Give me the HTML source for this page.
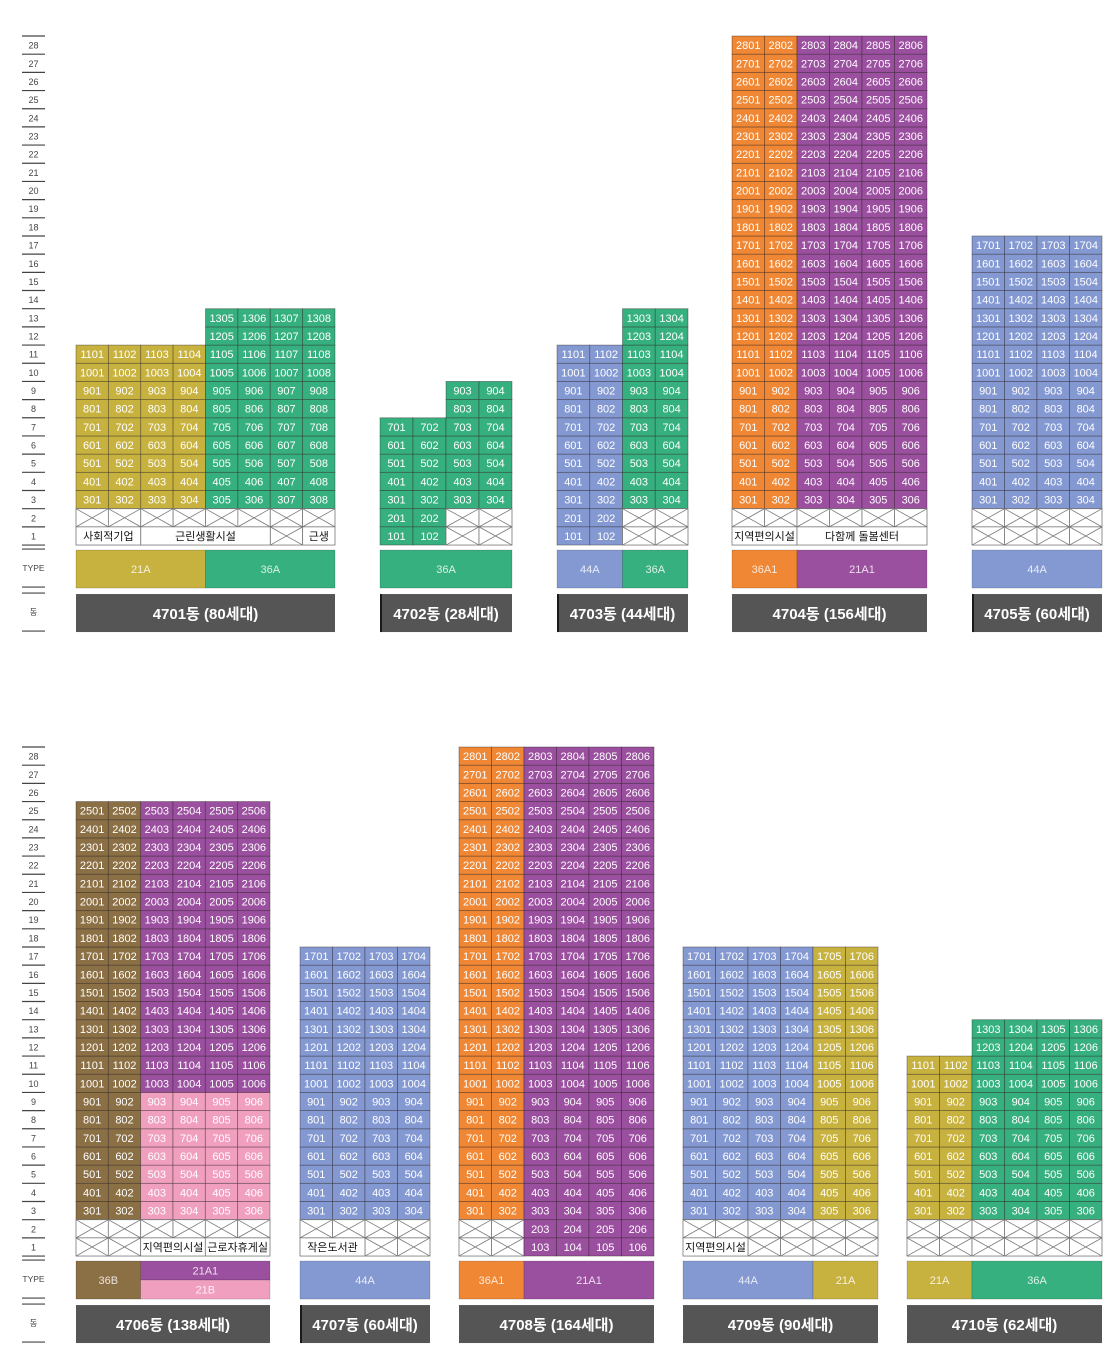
<!DOCTYPE html>
<html><head><meta charset="utf-8">
<style>
html,body{margin:0;padding:0;background:#fff;}
svg{display:block;font-family:"Liberation Sans","Noto Sans CJK KR",sans-serif;}
</style></head>
<body>
<svg id="chart" width="1119" height="1368" viewBox="0 0 1119 1368" xmlns="http://www.w3.org/2000/svg"></svg>
<script>
// ---- data ----
const buildingNames = ["4701동 (80세대)","4702동 (28세대)","4703동 (44세대)","4704동 (156세대)","4705동 (60세대)","4706동 (138세대)","4707동 (60세대)","4708동 (164세대)","4709동 (90세대)","4710동 (62세대)"];
const buildingRow = [0,0,0,0,0,1,1,1,1,1];
const buildingCols = [8,4,4,6,4,6,4,6,6,6];
// top floor per column
const topFloors = [
  [11,11,11,11,13,13,13,13],[7,7,9,9],[11,11,13,13],[28,28,28,28,28,28],[17,17,17,17],
  [25,25,25,25,25,25],[17,17,17,17],[28,28,28,28,28,28],[17,17,17,17,17,17],[11,11,13,13,13,13]];
// colour key per column ("P/K" = pink up to floor 9, purple above)
const colTypes = [
  ["O","O","O","O","G","G","G","G"],["G","G","G","G"],["B","B","G","G"],["R","R","P","P","P","P"],["B","B","B","B"],
  ["N","N","PK","PK","PK","PK"],["B","B","B","B"],["R","R","P","P","P","P"],["B","B","B","B","O","O"],["O","O","G","G","G","G"]];
// floors 1 & 2: U=unit, X=void, F=facility
const floor2 = ["XXXXXXXX","UUXX","UUXX","XXXXXX","XXXX","XXXXXX","XXXX","XXUUUU","XXXXXX","XXXXXX"];
const floor1 = ["FFFFFFXF","UUXX","UUXX","FFFFFF","XXXX","XXFFFF","FFXX","XXUUUU","FFXXXX","XXXXXX"];
const facilities = [
  [[0,1,"사회적기업"],[2,5,"근린생활시설"],[7,7,"근생"]],[],[],[[0,1,"지역편의시설"],[2,5,"다함께 돌봄센터"]],[],
  [[2,3,"지역편의시설"],[4,5,"근로자휴게실"]],[[0,1,"작은도서관"]],[],[[0,1,"지역편의시설"]],[]];
// type bars: [startCol,endCol,label,colour,half]
const typeBars = [
  [[0,3,"21A","O"],[4,7,"36A","G"]],[[0,3,"36A","G"]],[[0,1,"44A","B"],[2,3,"36A","G"]],[[0,1,"36A1","R"],[2,5,"21A1","P"]],[[0,3,"44A","B"]],
  [[0,1,"36B","N"],[2,5,"21A1","P","top"],[2,5,"21B","K","bot"]],[[0,3,"44A","B"]],[[0,1,"36A1","R"],[2,5,"21A1","P"]],[[0,3,"44A","B"],[4,5,"21A","O"]],[[0,1,"21A","O"],[2,5,"36A","G"]]];
// ---- layout ----
const bx=[76,380,557,732,972,76,300,459,683,907];
const bw=[259,132,131,195,130,194,130,195,195,195];
const leftEdge=[false,true,true,false,true,false,true,false,false,false];
const C={O:"#c8b23f",G:"#37b07f",B:"#8499d2",R:"#ef8734",P:"#9a4f9f",N:"#8b6f45",K:"#f0a0be"};
const rowTop=[36,747], RH=18.18;
const svg=document.getElementById('chart');
const NS="http://www.w3.org/2000/svg";
function el(tag,attrs,parent){const e=document.createElementNS(NS,tag);for(const k in attrs)e.setAttribute(k,attrs[k]);(parent||svg).appendChild(e);return e;}
function fy(r,f){return rowTop[r]+(28-f)*RH;}
function colorFor(t,f){if(t==="PK")return f<=9?C.K:C.P;return C[t];}

// floor index columns
for(let r=0;r<2;r++){
  const g=el('g',{});
  
  
  const t0=rowTop[r];
  el('line',{x1:22,x2:45,y1:t0,y2:t0,stroke:'#444','stroke-width':1.2},g);
  for(let f=28;f>=1;f--){
    const y=fy(r,f);
    const tx=el('text',{x:33.5,y:y+RH/2+3.5,'text-anchor':'middle','font-size':9,fill:'#444'},g);
    tx.textContent=f;
    el('line',{x1:22,x2:45,y1:y+RH,y2:y+RH,stroke:'#444','stroke-width':1.2},g);
  }
  const b=fy(r,0);
  el('line',{x1:22,x2:45,y1:b+4,y2:b+4,stroke:'#444','stroke-width':1.2},g);
  const tt=el('text',{x:33.5,y:b+26,'text-anchor':'middle','font-size':8.5,fill:'#444'},g);tt.textContent='TYPE';
  el('line',{x1:22,x2:45,y1:b+42,y2:b+42,stroke:'#444','stroke-width':1.2},g);
  el('line',{x1:22,x2:45,y1:b+48,y2:b+48,stroke:'#444','stroke-width':1.2},g);
  const dt=el('text',{x:33.5,y:b+70,'text-anchor':'middle','font-size':8.5,fill:'#444'},g);dt.textContent='동';
  el('line',{x1:22,x2:45,y1:b+86,y2:b+86,stroke:'#444','stroke-width':1.2},g);
}

function cross(g,x,y,w,h){
  el('rect',{x:x,y:y,width:w,height:h,fill:'#fff',stroke:'#777','stroke-width':0.8},g);
  el('line',{x1:x,y1:y,x2:x+w,y2:y+h,stroke:'#777','stroke-width':0.8},g);
  el('line',{x1:x+w,y1:y,x2:x,y2:y+h,stroke:'#777','stroke-width':0.8},g);
}

buildingNames.forEach((name,i)=>{
  const r=buildingRow[i], n=buildingCols[i], cw=bw[i]/n, x0=bx[i];
  const g=el('g',{});
  
  
  for(let c=0;c<n;c++){
    const x=x0+c*cw;
    for(let f=3;f<=topFloors[i][c];f++){
      const y=fy(r,f);
      const cell=el('rect',{x:x,y:y,width:cw,height:RH,fill:colorFor(colTypes[i][c],f),stroke:'rgba(40,30,30,0.45)','stroke-width':0.8},g);
      
      
      const t=el('text',{x:x+cw/2,y:y+RH/2+4,'text-anchor':'middle','font-size':11,fill:'#fff'},g);
      t.textContent=f*100+c+1;
    }
    [[2,floor2[i][c]],[1,floor1[i][c]]].forEach(([f,k])=>{
      const y=fy(r,f);
      if(k==="U"){
        el('rect',{x:x,y:y,width:cw,height:RH,fill:colorFor(colTypes[i][c],f),stroke:'rgba(40,30,30,0.45)','stroke-width':0.8},g);
        const t=el('text',{x:x+cw/2,y:y+RH/2+4,'text-anchor':'middle','font-size':11,fill:'#fff'},g);
        t.textContent=f*100+c+1;
      } else if(k==="X"){cross(g,x,y,cw,RH);}
    });
  }
  facilities[i].forEach(([a,b,txt])=>{
    const y=fy(r,1);
    const fr=el('rect',{x:x0+a*cw,y:y,width:(b-a+1)*cw,height:RH,fill:'#fff',stroke:'#777','stroke-width':0.8},g);
    
    
    const t=el('text',{x:x0+(a+b+1)/2*cw,y:y+RH/2+4,'text-anchor':'middle','font-size':11,fill:'#111'},g);
    t.textContent=txt;
  });
  const base=fy(r,0);
  typeBars[i].forEach(([a,b,lab,col,half])=>{
    let y=base+5,h=38;
    if(half==="top")h=19; if(half==="bot"){y=base+24;h=19;}
    const tb=el('rect',{x:x0+a*cw,y:y,width:(b-a+1)*cw,height:h,fill:C[col],stroke:'rgba(0,0,0,0.25)','stroke-width':0.6},g);
    
    
    const t=el('text',{x:x0+(a+b+1)/2*cw,y:y+h/2+4,'text-anchor':'middle','font-size':11,fill:'rgba(255,255,255,0.82)'},g);
    t.textContent=lab;
  });
  const nb=el('rect',{x:x0,y:base+49,width:bw[i],height:38,fill:'#555'},g);
  
  
  if(leftEdge[i])el('rect',{x:x0,y:base+49,width:2,height:38,fill:'#1a1a1a'},g);
  const nt=el('text',{x:x0+bw[i]/2,y:base+74,'text-anchor':'middle','font-size':15,'font-weight':'bold',fill:'#fff'},g);
  nt.textContent=name;
});
</script>
</body></html>
